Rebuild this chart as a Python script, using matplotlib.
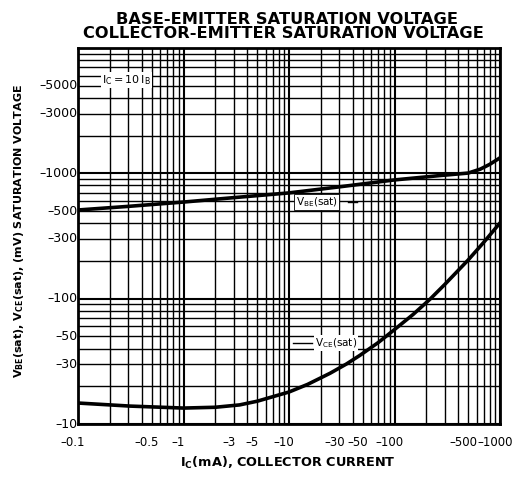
import numpy as np
import matplotlib
matplotlib.use("Agg")
import matplotlib.pyplot as plt
from matplotlib.ticker import FixedLocator, NullFormatter
import matplotlib.transforms as mtransforms

# collector current (mA) and saturation voltages (mV)
ic_vbe = [0.1, 0.3, 1, 3, 10, 30, 100, 270, 500, 650, 800, 1000]
vbe_sat = [510, 545, 590, 640, 698, 780, 886, 960, 1005, 1080, 1180, 1330]

ic_vce = [0.1, 0.31, 1, 2, 3.4, 5, 7, 10, 15, 24.5, 35, 47, 70, 99, 150, 217, 300, 498, 700, 1000]
vce_sat = [14.7, 13.9, 13.4, 13.6, 14.2, 15.2, 16.5, 18.0, 20.7, 25.4, 30.1, 35.3, 44.6, 56.3,
           74.8, 99, 130, 203, 281, 402]

x_ticks = [0.1, 0.5, 1, 3, 5, 10, 30, 50, 100, 500, 1000]
x_labels = ["0.1", "0.5", "1", "3", "5", "10", "30", "50", "100", "500", "1000"]
y_ticks = [10, 30, 50, 100, 300, 500, 1000, 3000, 5000]
y_labels = ["10", "30", "50", "100", "300", "500", "1000", "3000", "5000"]

fig = plt.figure(figsize=(5.32, 4.84), dpi=100)
ax = fig.add_axes([78 / 532, 60 / 484, 422 / 532, 376 / 484])

ax.set_xscale("log")
ax.set_yscale("log")
ax.set_xlim(0.1, 1000)
ax.set_ylim(10, 10000)

# dense printed-paper grid: every 1..9 in each decade
minors_x = [m * 10.0 ** e for e in range(-1, 3) for m in range(2, 10)]
minors_y = [m * 10.0 ** e for e in range(1, 4) for m in range(2, 10)]
ax.xaxis.set_minor_locator(FixedLocator(minors_x))
ax.yaxis.set_minor_locator(FixedLocator(minors_y))
ax.xaxis.set_minor_formatter(NullFormatter())
ax.yaxis.set_minor_formatter(NullFormatter())
ax.xaxis.set_major_locator(FixedLocator([0.1, 1, 10, 100, 1000]))
ax.yaxis.set_major_locator(FixedLocator([10, 100, 1000, 10000]))
ax.xaxis.set_major_formatter(NullFormatter())
ax.yaxis.set_major_formatter(NullFormatter())
ax.grid(which="major", color="black", lw=1.5)
ax.grid(which="minor", color="black", lw=1.0)
ax.tick_params(which="both", length=0)
for s in ax.spines.values():
    s.set_linewidth(2.0)

ax.plot(ic_vbe, vbe_sat, color="black", lw=2.6, zorder=5)
ax.plot(ic_vce, vce_sat, color="black", lw=2.6, zorder=5)

# tick labels drawn with the leading dash like the printed sheet
shift = mtransforms.ScaledTranslation(-5 / 100, -18 / 100, fig.dpi_scale_trans)
for xv, lab in zip(x_ticks, x_labels):
    ax.text(xv, 10, "\u2013" + lab, ha="center", va="center",
            fontsize=8.5, transform=ax.transData + shift, clip_on=False)
for yv, lab in zip(y_ticks, y_labels):
    ax.text(0.1 / 1.01, yv, "\u2013" + lab, ha="right", va="center",
            fontsize=9, clip_on=False)

box = dict(facecolor="white", edgecolor="none", pad=0.5)
ax.text(0.169, 5560, r"$\mathrm{I_C = 10\,I_B}$", fontsize=8, ha="left", va="center",
        bbox=box, zorder=6)
ax.text(11.6, 593, r"$\mathrm{V_{BE}(sat)}$", fontsize=7.5, ha="left", va="center",
        bbox=dict(facecolor="white", edgecolor="black", lw=0.6, pad=1), zorder=6)
ax.plot([36, 44], [593, 593], color="black", lw=1.0, zorder=6)
ax.text(17.6, 44.3, r"$\mathrm{V_{CE}(sat)}$", fontsize=7.5, ha="left", va="center",
        bbox=box, zorder=6)
ax.plot([10.9, 16.5], [44.3, 44.3], color="black", lw=1.0, zorder=6)

fig.text(287 / 532, 1 - 20 / 484, "BASE-EMITTER SATURATION VOLTAGE", ha="center", va="center",
         fontsize=11.7, fontweight="bold")
fig.text(283 / 532, 1 - 34 / 484, "COLLECTOR-EMITTER SATURATION VOLTAGE", ha="center", va="center",
         fontsize=11.7, fontweight="bold")
fig.text(288 / 532, 1 - 463 / 484, r"$\mathbf{I_C(mA)}$, COLLECTOR CURRENT", ha="center", va="center",
         fontsize=9.3, fontweight="bold")
fig.text(19 / 532, 1 - 231 / 484,
         r"$\mathbf{V_{BE}(sat)}$, $\mathbf{V_{CE}(sat)}$, (mV) SATURATION VOLTAGE",
         ha="center", va="center", rotation=90, fontsize=8, fontweight="bold")

fig.savefig("out.png", dpi=100)
